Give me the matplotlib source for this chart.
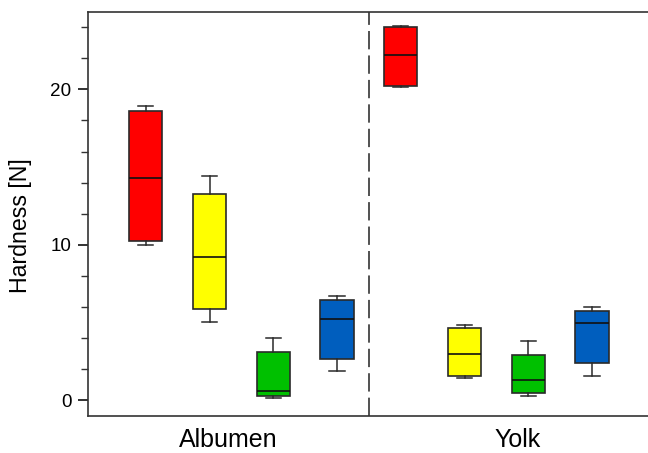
import matplotlib
matplotlib.use("Agg")
import matplotlib.pyplot as plt
from matplotlib.ticker import MultipleLocator

plt.rcParams['font.family'] = ['Liberation Sans', 'DejaVu Sans']

groups = ["Albumen", "Yolk"]
colors = ["#FF0000", "#FFFF00", "#00C000", "#005EBE"]

# per box: whisker low, q1, median, q3, whisker high
albumen_whislo = [9.99, 5.00, 0.17, 1.89]
albumen_q1 = [10.22, 5.88, 0.28, 2.62]
albumen_med = [14.32, 9.23, 0.60, 5.20]
albumen_q3 = [18.62, 13.29, 3.13, 6.42]
albumen_whishi = [18.96, 14.43, 3.99, 6.70]

yolk_whislo = [20.17, 1.40, 0.24, 1.57]
yolk_q1 = [20.23, 1.55, 0.43, 2.40]
yolk_med = [22.20, 2.96, 1.29, 4.94]
yolk_q3 = [24.03, 4.62, 2.88, 5.73]
yolk_whishi = [24.10, 4.85, 3.80, 5.97]

W, H = 648, 453
fig = plt.figure(figsize=(W / 100, H / 100), dpi=100)
ax = fig.add_axes([88.3 / W, 1 - 415.7 / H, (W - 88.3) / W, (415.7 - 11.7) / H])

stats = []
for lo, q1, med, q3, hi in zip(albumen_whislo + yolk_whislo, albumen_q1 + yolk_q1,
                               albumen_med + yolk_med, albumen_q3 + yolk_q3,
                               albumen_whishi + yolk_whishi):
    stats.append(dict(whislo=lo, q1=q1, med=med, q3=q3, whishi=hi, fliers=[]))

positions = list(range(1, 9))
edge = "#2a2a2a"
bp = ax.bxp(stats, positions=positions, widths=0.52, patch_artist=True,
            showfliers=False, capwidths=0.24,
            boxprops=dict(edgecolor=edge, linewidth=1.2),
            medianprops=dict(color="#111111", linewidth=1.2),
            whiskerprops=dict(color=edge, linewidth=1.1),
            capprops=dict(color=edge, linewidth=1.1))
for i, patch in enumerate(bp['boxes']):
    patch.set_facecolor(colors[i % 4])

ax.axvline(4.5, color="#222222", linewidth=1.1, linestyle=(0, (12, 4)))

ax.set_xlim(0.098, 8.878)
ax.set_ylim(-1.0, 25.0)

ax.spines['right'].set_visible(False)
for s in ['left', 'top', 'bottom']:
    ax.spines[s].set_color("#333333")
    ax.spines[s].set_linewidth(1.2)

ax.yaxis.set_major_locator(MultipleLocator(10))
ax.yaxis.set_minor_locator(MultipleLocator(2))
ax.tick_params(axis='y', which='major', length=7.2, width=1.3, color="#222222",
               labelsize=13.6, pad=5)
ax.tick_params(axis='y', which='minor', length=4.8, width=1.0, color="#333333")

ax.set_xticks([2.30, 6.84])
ax.set_xticklabels(groups, fontsize=18)
ax.tick_params(axis='x', length=0, pad=9)

ax.set_ylabel("Hardness [N]", fontsize=16.7)
ax.yaxis.set_label_coords(-0.100, 0.47)

fig.savefig("out.png", dpi=100)
